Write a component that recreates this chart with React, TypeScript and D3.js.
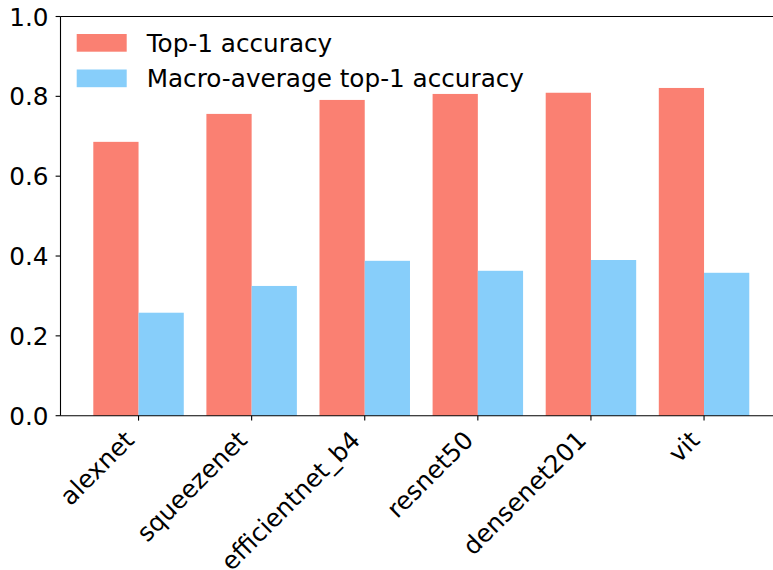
import React from "react";
import * as d3 from "d3";

const categories = ["alexnet", "squeezenet", "efficientnet_b4", "resnet50", "densenet201", "vit"];
const top1 = [0.686, 0.756, 0.791, 0.806, 0.809, 0.821];
const macroTop1 = [0.258, 0.325, 0.388, 0.363, 0.39, 0.358];
const seriesNames = ["Top-1 accuracy", "Macro-average top-1 accuracy"];
const seriesColors = ["#fa8072", "#87cefa"];
const yTicks = [0, 0.2, 0.4, 0.6, 0.8, 1.0];

const W = 773;
const H = 570;
const left = 60.5;
const top = 16.5;
const bottom = 415.7;
const font = "'DejaVu Sans', sans-serif";
const fs = 24.7;

export default function App() {
  const n = categories.length;
  const barW = 0.4;
  const xmin = -barW - 0.05 * (n - 1 + 2 * barW);
  const xmax = n - 1 + barW + 0.05 * (n - 1 + 2 * barW);
  const unit = 113.1;
  const right = left + (xmax - xmin) * unit;
  const x = d3.scaleLinear().domain([xmin, xmax]).range([left, right]);
  const y = d3.scaleLinear().domain([0, 1]).range([bottom, top]);
  const series = [top1, macroTop1];

  return (
    <svg width={W} height={H} style={{ position: "absolute", left: 0, top: 0, background: "#fff" }}>
      <rect x={0} y={0} width={W} height={H} fill="#fff" />
      {series.map((vals, s) =>
        vals.map((v, i) => {
          const x0 = s === 0 ? x(i - barW) : x(i);
          const x1 = s === 0 ? x(i) : x(i + barW);
          return (
            <rect
              key={`${s}-${i}`}
              x={x0}
              y={y(v)}
              width={x1 - x0}
              height={y(0) - y(v)}
              fill={seriesColors[s]}
            />
          );
        })
      )}
      {/* spines */}
      <line x1={left} x2={left} y1={top} y2={bottom} stroke="#000" strokeWidth={1.1} />
      <line x1={left} x2={right} y1={bottom} y2={bottom} stroke="#000" strokeWidth={1.1} />
      <line x1={left} x2={right} y1={top} y2={top} stroke="#000" strokeWidth={1.1} />
      <line x1={right} x2={right} y1={top} y2={bottom} stroke="#000" strokeWidth={1.1} />
      {/* y ticks */}
      {yTicks.map((t) => (
        <g key={t}>
          <line x1={left - 4.9} x2={left} y1={y(t)} y2={y(t)} stroke="#000" strokeWidth={1.1} />
          <text x={48.5} y={y(t) + 9} textAnchor="end" fontFamily={font} fontSize={fs} fill="#000">
            {t.toFixed(1)}
          </text>
        </g>
      ))}
      {/* x ticks */}
      {categories.map((c, i) => {
        const tx = x(i);
        const px = tx - 3;
        const py = bottom + 26;
        return (
          <g key={c}>
            <line x1={tx} x2={tx} y1={bottom} y2={bottom + 4.9} stroke="#000" strokeWidth={1.1} />
            <text
              x={px}
              y={py}
              textAnchor="end"
              transform={`rotate(-45 ${px} ${py})`}
              fontFamily={font}
              fontSize={fs}
              fill="#000"
            >
              {c}
            </text>
          </g>
        );
      })}
      {/* legend */}
      {seriesNames.map((name, s) => (
        <g key={name}>
          <rect x={76.7} y={34 + s * 35.5} width={50} height={17.7} fill={seriesColors[s]} />
          <text x={146.7} y={51.8 + s * 35.3} fontFamily={font} fontSize={fs} fill="#000">
            {name}
          </text>
        </g>
      ))}
    </svg>
  );
}
